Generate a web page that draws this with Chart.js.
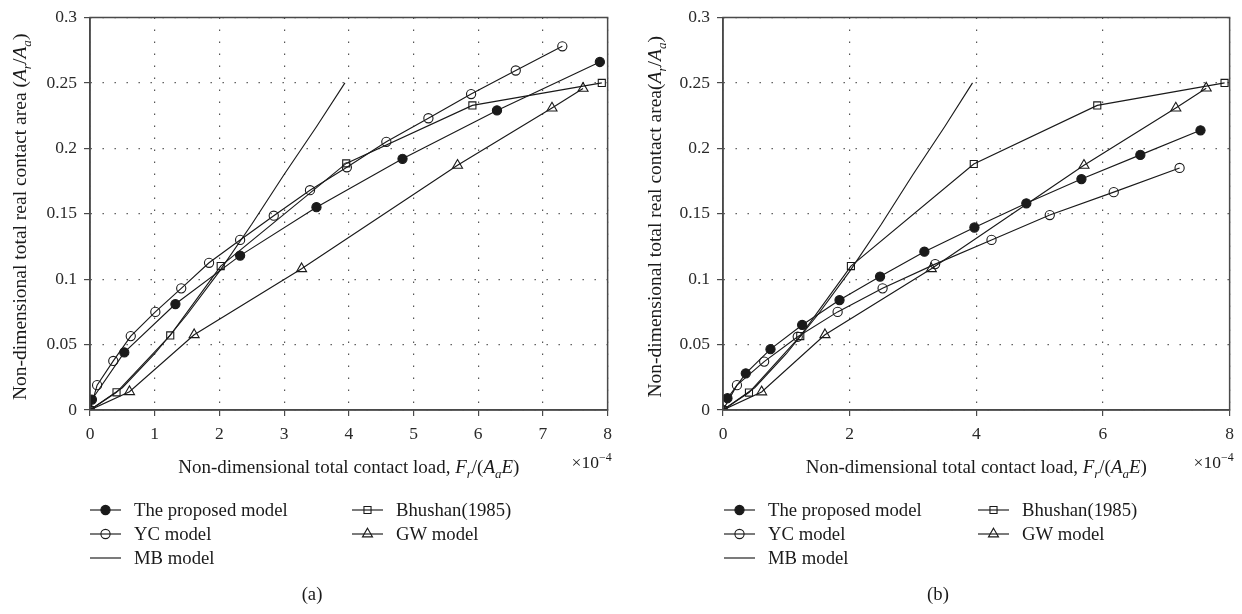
<!DOCTYPE html>
<html>
<head>
<meta charset="utf-8">
<script src="https://cdn.jsdelivr.net/npm/chart.js@4.4.0/dist/chart.umd.min.js"></script>
<style>
  html, body { margin: 0; padding: 0; background: #fff; }
  #wrap { position: relative; width: 1242px; height: 614px; }
  #panelA { position: absolute; left: 0; top: 0; }
  #panelB { position: absolute; left: 620px; top: 0; }
</style>
</head>
<body>
<div id="wrap">
  <canvas id="panelA" width="620" height="614"></canvas>
  <canvas id="panelB" width="622" height="614"></canvas>
</div>
<script>
// tick values
const xTicksA = [0, 1, 2, 3, 4, 5, 6, 7, 8];
const xTicksB = [0, 2, 4, 6, 8];
const yTicks = [0, 0.05, 0.1, 0.15, 0.2, 0.25, 0.3];

const seriesNames = ['The proposed model', 'YC model', 'MB model', 'Bhushan(1985)', 'GW model'];

// panel (a): load (x1e-4) vs area ratio
const propLoadA = [0.03, 0.53, 1.32, 2.32, 3.50, 4.83, 6.29, 7.88];
const propAreaA = [0.008, 0.044, 0.081, 0.118, 0.155, 0.192, 0.229, 0.266];
const ycLoadA = [0, 0.11, 0.36, 0.63, 1.01, 1.41, 1.84, 2.32, 2.84, 3.40, 3.97, 4.58, 5.23, 5.89, 6.58, 7.30];
const ycAreaA = [0, 0.019, 0.0375, 0.0565, 0.075, 0.093, 0.1125, 0.130, 0.1485, 0.168, 0.1855, 0.205, 0.223, 0.2415, 0.2595, 0.278];
const mbLoadA = [0, 0.5, 1.0, 1.5, 2.0, 2.5, 3.0, 3.5, 3.94];
const mbAreaA = [0, 0.017, 0.043, 0.073, 0.106, 0.142, 0.180, 0.2165, 0.25];
const bhLoadA = [0, 0.41, 1.24, 2.02, 3.96, 5.91, 7.91];
const bhAreaA = [0, 0.0135, 0.057, 0.110, 0.1885, 0.2328, 0.250];
const gwLoadA = [0, 0.61, 1.61, 3.27, 5.68, 7.14, 7.62];
const gwAreaA = [0, 0.014, 0.0575, 0.108, 0.187, 0.2308, 0.2458];

// panel (b)
const propLoadB = [0.07, 0.36, 0.75, 1.25, 1.84, 2.48, 3.18, 3.97, 4.79, 5.66, 6.59, 7.54];
const propAreaB = [0.009, 0.028, 0.0465, 0.065, 0.084, 0.102, 0.121, 0.1395, 0.158, 0.1765, 0.195, 0.2138];
const ycLoadB = [0, 0.22, 0.65, 1.18, 1.81, 2.52, 3.35, 4.24, 5.16, 6.17, 7.21];
const ycAreaB = [0, 0.019, 0.037, 0.056, 0.075, 0.093, 0.1115, 0.130, 0.149, 0.1665, 0.185];
const mbLoadB = [0, 0.5, 1.0, 1.5, 2.0, 2.5, 3.0, 3.5, 3.94];
const mbAreaB = [0, 0.017, 0.043, 0.073, 0.106, 0.142, 0.180, 0.2165, 0.25];
const bhLoadB = [0, 0.41, 1.22, 2.02, 3.96, 5.91, 7.92];
const bhAreaB = [0, 0.0133, 0.0565, 0.110, 0.188, 0.2328, 0.250];
const gwLoadB = [0, 0.61, 1.61, 3.29, 5.70, 7.15, 7.63];
const gwAreaB = [0, 0.0138, 0.0575, 0.108, 0.187, 0.2308, 0.246];

const FONT = '"Liberation Serif", "DejaVu Serif", serif';
const INK = '#1a1a1a';
Chart.defaults.font.family = FONT;
Chart.defaults.color = '#2a2a2a';

const pts = (xs, ys) => xs.map((x, i) => ({ x: x, y: ys[i] }));

// marker look per series, legend slot = [column, row]
const styles = [
  { pointStyle: 'circle',   pointRadius: 4.6, fill: INK,             slot: [0, 0] },
  { pointStyle: 'circle',   pointRadius: 4.6, fill: 'rgba(0,0,0,0)', slot: [0, 1] },
  { pointStyle: false,      pointRadius: 0,   fill: INK,             slot: [0, 2] },
  { pointStyle: 'rect',     pointRadius: 5,   fill: 'rgba(0,0,0,0)', slot: [1, 0] },
  { pointStyle: 'triangle', pointRadius: 5.8, fill: 'rgba(0,0,0,0)', slot: [1, 1] }
];

function makeDatasets(series) {
  return series.map((s, i) => ({
    label: seriesNames[i],
    data: pts(s[0], s[1]),
    borderColor: INK,
    borderWidth: 1.15,
    backgroundColor: styles[i].fill,
    pointStyle: styles[i].pointStyle || 'circle',
    pointRadius: styles[i].pointRadius,
    pointBorderWidth: 1.1,
    pointBorderColor: INK,
    pointBackgroundColor: styles[i].fill,
    fill: false,
    tension: 0,
    slot: styles[i].slot
  }));
}

// text runs with italics / sub / superscripts
function runFont(r, size) {
  const sz = (r.sub || r.sup) ? size * 0.68 : size;
  return (r.it ? 'italic ' : '') + sz + 'px ' + FONT;
}
function drawRuns(ctx, runs, x, y, align, size) {
  let total = 0;
  runs.forEach(r => { ctx.font = runFont(r, size); total += ctx.measureText(r.t).width; });
  let cx = align === 'center' ? x - total / 2 : align === 'right' ? x - total : x;
  ctx.textAlign = 'left';
  ctx.textBaseline = 'alphabetic';
  runs.forEach(r => {
    ctx.font = runFont(r, size);
    const dy = r.sub ? size * 0.28 : r.sup ? -size * 0.42 : 0;
    ctx.fillText(r.t, cx, y + dy);
    cx += ctx.measureText(r.t).width;
  });
}

function legendMarker(ctx, ds, x, y) {
  if (!ds.pointRadius) return;
  ctx.fillStyle = ds.pointBackgroundColor;
  ctx.strokeStyle = INK;
  ctx.lineWidth = 1.1;
  Chart.helpers.drawPoint(ctx, { pointStyle: ds.pointStyle, radius: ds.pointRadius, borderWidth: 1.1, rotation: 0 }, x, y);
}

// frame, axis titles, legend and caption
const panelDecor = {
  id: 'panelDecor',
  afterDraw(chart, args, o) {
    const ctx = chart.ctx;
    const a = chart.chartArea;
    ctx.save();
    ctx.setLineDash([]);
    ctx.strokeStyle = '#4a4a4a';
    ctx.lineWidth = 1.5;
    ctx.strokeRect(a.left, a.top, a.right - a.left, a.bottom - a.top);

    ctx.fillStyle = INK;
    drawRuns(ctx, o.xTitle, (a.left + a.right) / 2, o.xTitleY, 'center', 19);
    drawRuns(ctx, [{ t: '×10' }, { t: '−4', sup: 1 }], a.right + 4, o.xTitleY - 5, 'right', 17.5);

    ctx.save();
    ctx.translate(o.yTitleX, (a.top + a.bottom) / 2 + 3);
    ctx.rotate(-Math.PI / 2);
    drawRuns(ctx, o.yTitle, 0, 6, 'center', 19.5);
    ctx.restore();

    // legend in two columns
    chart.data.datasets.forEach(ds => {
      const x0 = o.legendX[ds.slot[0]];
      const y = o.legendY[ds.slot[1]];
      ctx.strokeStyle = INK;
      ctx.lineWidth = 1.15;
      ctx.beginPath();
      ctx.moveTo(x0, y);
      ctx.lineTo(x0 + 31, y);
      ctx.stroke();
      legendMarker(ctx, ds, x0 + 15.5, y);
      ctx.fillStyle = INK;
      ctx.font = '18.7px ' + FONT;
      ctx.textAlign = 'left';
      ctx.textBaseline = 'middle';
      ctx.fillText(ds.label, x0 + 44, y + 1);
    });

    ctx.font = '18.7px ' + FONT;
    ctx.textAlign = 'center';
    ctx.textBaseline = 'middle';
    ctx.fillText(o.caption, o.captionX, 595);
    ctx.restore();
  }
};

function makeChart(id, series, xTicks, axisWidth, rightPad, deco) {
  return new Chart(document.getElementById(id), {
    type: 'line',
    data: { datasets: makeDatasets(series) },
    plugins: [panelDecor],
    options: {
      responsive: false,
      animation: false,
      devicePixelRatio: 1,
      layout: { padding: { left: 0, right: rightPad, top: 11, bottom: 0 } },
      plugins: {
        legend: { display: false },
        tooltip: { enabled: false },
        panelDecor: deco
      },
      scales: {
        x: {
          type: 'linear',
          min: 0,
          max: 8,
          afterBuildTicks: s => { s.ticks = xTicks.map(v => ({ value: v })); },
          afterFit: s => { s.height = 204; },
          ticks: { font: { size: 17.5 }, padding: 8, maxRotation: 0, callback: v => String(v) },
          grid: { color: '#555', lineWidth: 1.2, tickLength: 6, tickColor: '#4a4a4a', tickWidth: 1.2 },
          border: { dash: [1.4, 10.6], color: '#4a4a4a', width: 1.5 }
        },
        y: {
          type: 'linear',
          min: 0,
          max: 0.3,
          afterBuildTicks: s => { s.ticks = yTicks.map(v => ({ value: v })); },
          afterFit: s => { s.width = axisWidth; },
          ticks: { font: { size: 17.5 }, padding: 7, callback: v => String(v) },
          grid: { color: '#555', lineWidth: 1.2, tickLength: 6, tickColor: '#4a4a4a', tickWidth: 1.2 },
          border: { dash: [1.4, 10.6], color: '#4a4a4a', width: 1.5 }
        }
      }
    }
  });
}

const loadTitle = [
  { t: 'Non-dimensional total contact load, ' },
  { t: 'F', it: 1 }, { t: 'r', it: 1, sub: 1 }, { t: '/(' },
  { t: 'A', it: 1 }, { t: 'a', it: 1, sub: 1 }, { t: 'E', it: 1 }, { t: ')' }
];
const areaRuns = lead => [
  { t: lead },
  { t: 'A', it: 1 }, { t: 'r', it: 1, sub: 1 }, { t: '/' },
  { t: 'A', it: 1 }, { t: 'a', it: 1, sub: 1 }, { t: ')' }
];

makeChart('panelA',
  [[propLoadA, propAreaA], [ycLoadA, ycAreaA], [mbLoadA, mbAreaA], [bhLoadA, bhAreaA], [gwLoadA, gwAreaA]],
  xTicksA, 90, 7,
  {
    xTitle: loadTitle, xTitleY: 473,
    yTitle: areaRuns('Non-dimensional total real contact area ('), yTitleX: 20,
    legendX: [90, 352], legendY: [510, 534, 558],
    caption: '(a)', captionX: 312
  });

makeChart('panelB',
  [[propLoadB, propAreaB], [ycLoadB, ycAreaB], [mbLoadB, mbAreaB], [bhLoadB, bhAreaB], [gwLoadB, gwAreaB]],
  xTicksB, 103, 11,
  {
    xTitle: loadTitle, xTitleY: 473,
    yTitle: areaRuns('Non-dimensional total real contact area('), yTitleX: 35,
    legendX: [104, 358], legendY: [510, 534, 558],
    caption: '(b)', captionX: 318
  });
</script>
</body>
</html>
